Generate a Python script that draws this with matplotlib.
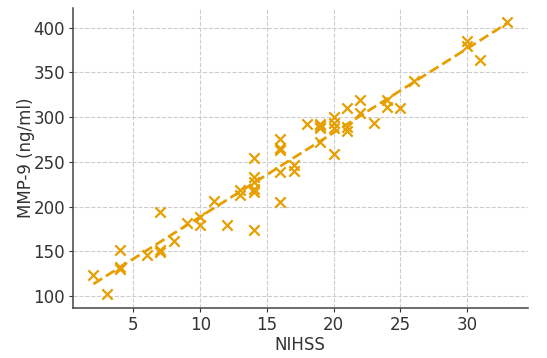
import numpy as np
import matplotlib.pyplot as plt

# values
nihss = [2, 3, 4, 4, 4, 6, 7, 7, 7, 8, 9, 10, 10, 11, 12, 13, 13,
         14, 14, 14, 14, 14, 14, 16, 16, 16, 16, 16, 17, 17, 18,
         19, 19, 19, 19, 20, 20, 20, 20, 21, 21, 21, 22, 22, 23,
         24, 24, 25, 26, 30, 30, 31, 33]
mmp9 = [123, 102, 151, 130, 132, 146, 194, 152, 149, 162, 182, 188, 179, 206, 179, 219, 213,
        254, 233, 227, 220, 216, 174, 276, 266, 263, 239, 205, 246, 240, 292,
        292, 290, 288, 272, 300, 293, 288, 259, 310, 289, 284, 319, 305, 294,
        319, 311, 310, 341, 385, 380, 364, 407]

color = "#E69F00"
dark = "#333333"

fig = plt.figure(figsize=(5.47, 3.58), dpi=100)
ax = fig.add_axes([0.133, 0.14, 0.832, 0.838])

ax.scatter(nihss, mmp9, marker="x", s=55, color=color, linewidths=1.6, zorder=3)

# linear trend
k, b = np.polyfit(nihss, mmp9, 1)
xs = np.array([min(nihss), max(nihss)])
ax.plot(xs, k * xs + b, "--", color=color, linewidth=2, zorder=2)

ax.set_xlabel("NIHSS", fontsize=12, color=dark, labelpad=2)
ax.set_ylabel("MMP-9 (ng/ml)", fontsize=12, color=dark, labelpad=-1)
ax.tick_params(labelsize=12, length=3, pad=2.5, colors=dark, labelcolor=dark)
ax.grid(True, linestyle="--", color="#cccccc", linewidth=0.8)
ax.set_axisbelow(True)
for s in ["top", "right"]:
    ax.spines[s].set_visible(False)
for s in ["left", "bottom"]:
    ax.spines[s].set_color("#444444")
    ax.spines[s].set_linewidth(1.1)

fig.savefig("out.png", dpi=100)
